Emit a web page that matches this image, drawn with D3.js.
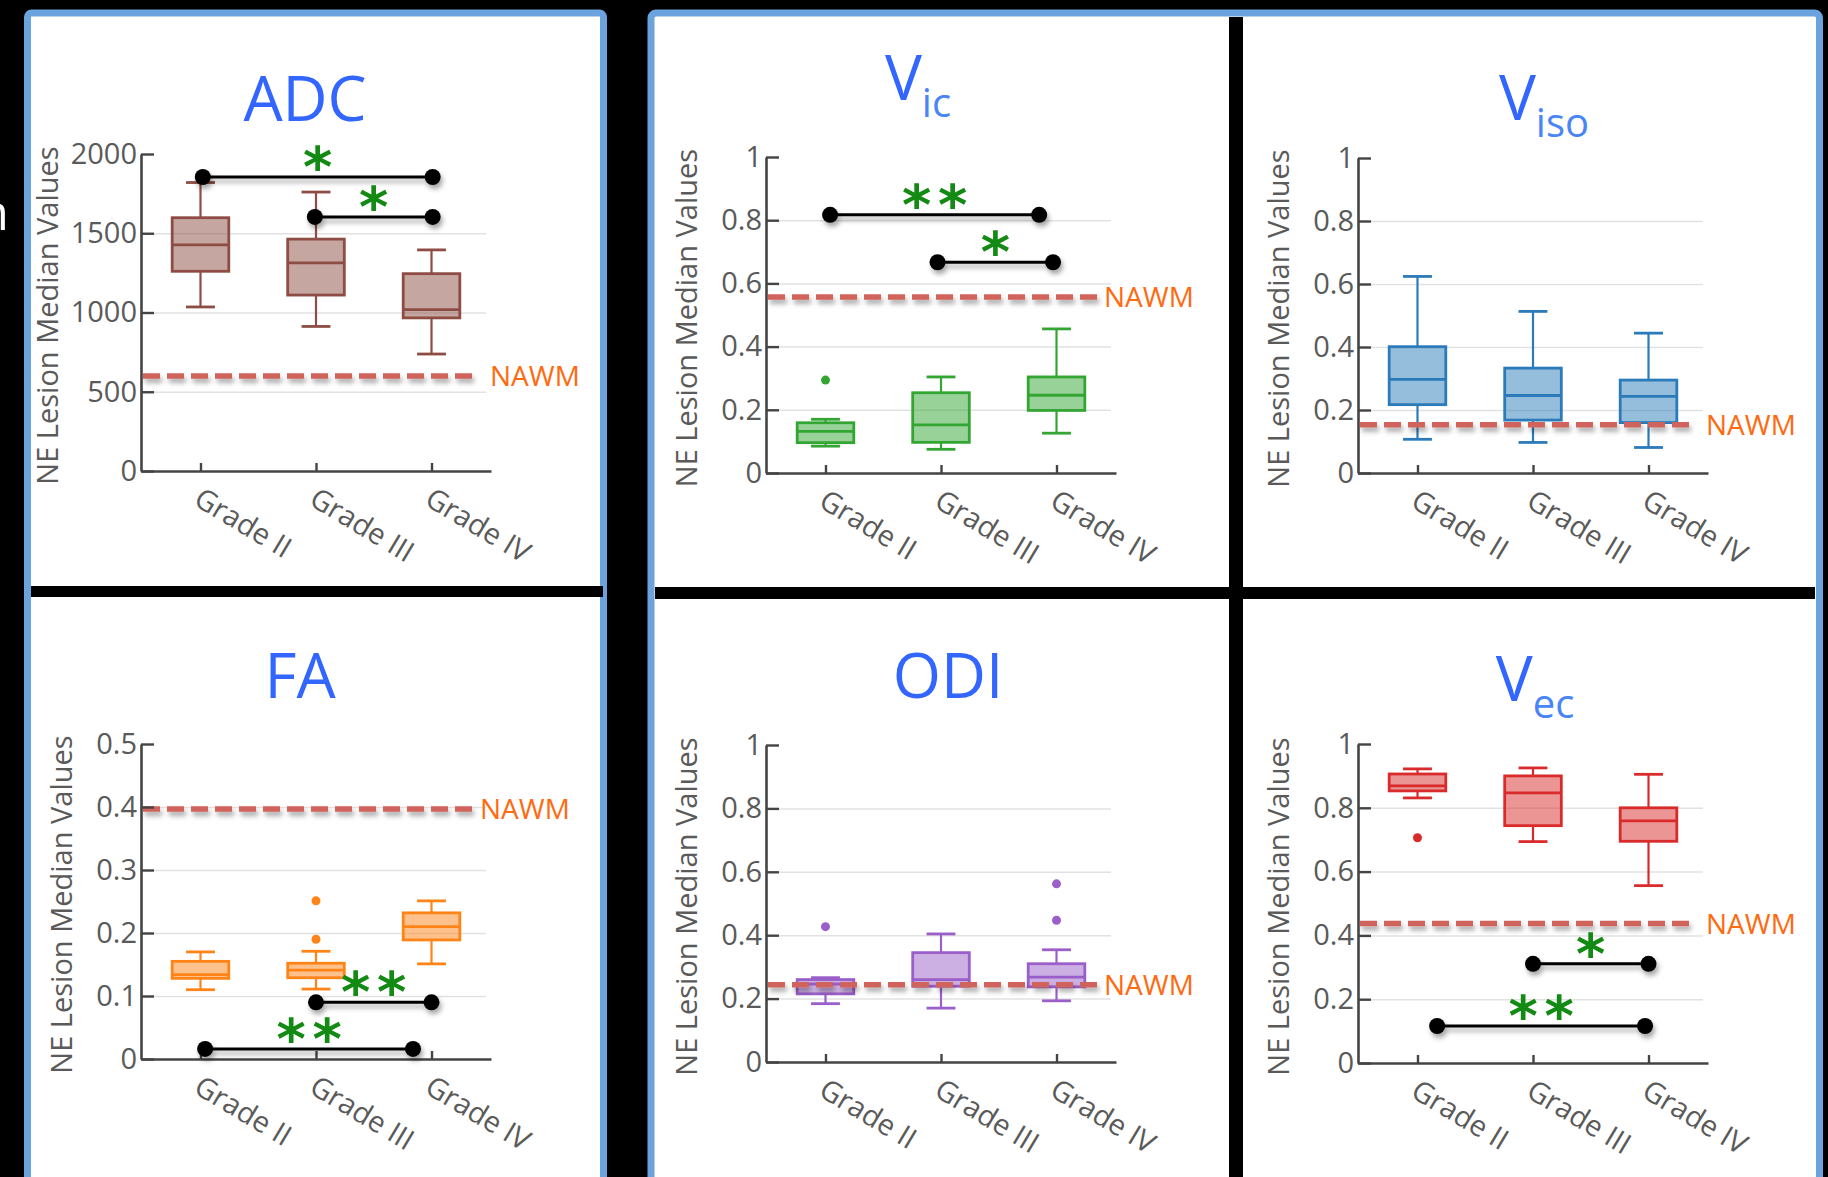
<!DOCTYPE html>
<html>
<head>
<meta charset="utf-8">
<script src="https://cdn.jsdelivr.net/npm/d3@7"></script>
<style>
  body { margin: 0; background: #000; }
  svg { display: block; font-family: "Open Sans", sans-serif; }
</style>
</head>
<body>
<div id="chart"></div>
<script>
// categories
const grades = ["Grade II", "Grade III", "Grade IV"];

// box stats per grade: [lower whisker, q1, median, q3, upper whisker]
const adcBoxes = [[1035, 1260, 1427, 1598, 1820], [912, 1110, 1313, 1463, 1760], [738, 966, 1018, 1245, 1395]];
const adcOutliers = [[], [], []];
const adcTicks = [0, 500, 1000, 1500, 2000];
const adcNawm = 600;
// significance bars: from / to in grade index units, y value, label
const adcSig = [{ from: 0.02, to: 2.01, y: 1855, label: "*" }, { from: 0.99, to: 2.01, y: 1603, label: "*" }];

const vicBoxes = [[0.085, 0.096, 0.132, 0.159, 0.170], [0.075, 0.097, 0.152, 0.254, 0.304], [0.126, 0.198, 0.246, 0.304, 0.456]];
const vicOutliers = [[0.294], [], []];
const vicTicks = [0, 0.2, 0.4, 0.6, 0.8, 1];
const vicNawm = 0.557;
const vicSig = [{ from: 0.04, to: 1.85, y: 0.817, label: "**" }, { from: 0.97, to: 1.97, y: 0.667, label: "*" }];

const visoBoxes = [[0.107, 0.217, 0.297, 0.401, 0.624], [0.097, 0.168, 0.246, 0.333, 0.513], [0.081, 0.160, 0.243, 0.295, 0.444]];
const visoOutliers = [[], [], []];
const visoTicks = [0, 0.2, 0.4, 0.6, 0.8, 1];
const visoNawm = 0.153;
const visoSig = [];

const faBoxes = [[0.110, 0.128, 0.134, 0.155, 0.170], [0.111, 0.129, 0.141, 0.152, 0.171], [0.151, 0.189, 0.210, 0.232, 0.251]];
const faOutliers = [[], [0.190, 0.251], []];
const faTicks = [0, 0.1, 0.2, 0.3, 0.4, 0.5];
const faNawm = 0.397;
const faSig = [{ from: 1.0, to: 2.0, y: 0.090, label: "**" }, { from: 0.04, to: 1.84, y: 0.016, label: "**" }];

const odiBoxes = [[0.184, 0.215, 0.246, 0.260, 0.266], [0.170, 0.239, 0.260, 0.345, 0.404], [0.193, 0.237, 0.268, 0.310, 0.354]];
const odiOutliers = [[0.427], [], [0.447, 0.562]];
const odiTicks = [0, 0.2, 0.4, 0.6, 0.8, 1];
const odiNawm = 0.244;
const odiSig = [];

const vecBoxes = [[0.831, 0.853, 0.869, 0.906, 0.922], [0.694, 0.744, 0.847, 0.900, 0.925], [0.556, 0.695, 0.759, 0.800, 0.905]];
const vecOutliers = [[0.706], [], []];
const vecTicks = [0, 0.2, 0.4, 0.6, 0.8, 1];
const vecNawm = 0.437;
const vecSig = [{ from: 1.0, to: 2.0, y: 0.311, label: "*" }, { from: 0.17, to: 1.97, y: 0.116, label: "**" }];

const panels = [
  { title: "ADC", sub: "", tx: 305, ty: 121, boxes: adcBoxes, outliers: adcOutliers, ticks: adcTicks, nawm: adcNawm, sig: adcSig,
    stroke: "#8e4d44", ax: 141, y0: 471, y1: 154, ylab: 83, nawmDx: 349 },
  { title: "V", sub: "ic", tx: 918, ty: 100, boxes: vicBoxes, outliers: vicOutliers, ticks: vicTicks, nawm: vicNawm, sig: vicSig,
    stroke: "#33a533", ax: 766, y0: 473, y1: 157, ylab: 69, nawmDx: 338 },
  { title: "V", sub: "iso", tx: 1544, ty: 120, boxes: visoBoxes, outliers: visoOutliers, ticks: visoTicks, nawm: visoNawm, sig: visoSig,
    stroke: "#2b7bba", ax: 1358, y0: 473, y1: 158, ylab: 69, nawmDx: 348 },
  { title: "FA", sub: "", tx: 300, ty: 698, boxes: faBoxes, outliers: faOutliers, ticks: faTicks, nawm: faNawm, sig: faSig,
    stroke: "#ff8418", ax: 141, y0: 1059, y1: 744, ylab: 69, nawmDx: 339 },
  { title: "ODI", sub: "", tx: 948, ty: 698, boxes: odiBoxes, outliers: odiOutliers, ticks: odiTicks, nawm: odiNawm, sig: odiSig,
    stroke: "#9a5fc8", ax: 766, y0: 1062, y1: 745, ylab: 69, nawmDx: 338 },
  { title: "V", sub: "ec", tx: 1535, ty: 701, boxes: vecBoxes, outliers: vecOutliers, ticks: vecTicks, nawm: vecNawm, sig: vecSig,
    stroke: "#d92b2b", ax: 1358, y0: 1063, y1: 744, ylab: 69, nawmDx: 348 }
];

const W = 1828, H = 1177;
const svg = d3.select("#chart").append("svg").attr("width", W).attr("height", H);

svg.append("rect").attr("width", W).attr("height", H).attr("fill", "#000");

const shadow = svg.append("defs").append("filter").attr("id", "shadow")
  .attr("filterUnits", "userSpaceOnUse").attr("x", 0).attr("y", 0).attr("width", W).attr("height", H);
shadow.append("feDropShadow").attr("dx", 2).attr("dy", 4).attr("stdDeviation", 2.5)
  .attr("flood-color", "#000").attr("flood-opacity", 0.35);

// the two framed panels
svg.append("rect").attr("x", 27.5).attr("y", 13).attr("width", 576).attr("height", 1170).attr("rx", 4)
  .attr("fill", "#fff").attr("stroke", "#6aa3de").attr("stroke-width", 7);
svg.append("rect").attr("x", 651).attr("y", 13).attr("width", 1168.5).attr("height", 1170).attr("rx", 5)
  .attr("fill", "#fff").attr("stroke", "#6aa3de").attr("stroke-width", 7);
// black dividers
svg.append("rect").attr("x", 31).attr("y", 586).attr("width", 572).attr("height", 11).attr("fill", "#000");
svg.append("rect").attr("x", 655).attr("y", 587).attr("width", 1160).attr("height", 12).attr("fill", "#000");
svg.append("rect").attr("x", 1229).attr("y", 17).attr("width", 14).attr("height", 1160).attr("fill", "#000");

// cut-off letter at the left edge (cropped in the original too)
svg.append("text").attr("x", 9).attr("y", 230).attr("text-anchor", "end")
  .style("font-size", "50px").attr("fill", "#fff").text("n");

panels.forEach(drawPanel);

function drawPanel(p) {
  const g = svg.append("g");
  const x = d3.scalePoint().domain(grades).range([p.ax, p.ax + 350]).padding(0.515);
  const y = d3.scaleLinear().domain([0, p.ticks[p.ticks.length - 1]]).range([p.y0, p.y1]);
  const xi = d3.scaleLinear().domain([0, 2]).range([x(grades[0]), x(grades[2])]);
  const bw = x.step() * 0.49, cw = x.step() * 0.25;

  // grid
  g.append("g").attr("transform", `translate(${p.ax},0)`)
    .call(d3.axisLeft(y).tickValues(p.ticks.slice(1, -1)).tickSize(-345).tickFormat(""))
    .call(s => s.select(".domain").remove())
    .selectAll("line").attr("stroke", "#e2e2e2").attr("stroke-width", 1.5);

  // boxes
  const bx = g.selectAll(".box").data(p.boxes).join("g")
    .attr("transform", (d, i) => `translate(${x(grades[i])},0)`)
    .attr("stroke", p.stroke);
  bx.append("line").attr("y1", d => y(d[0])).attr("y2", d => y(d[1])).attr("stroke-width", 2.2);
  bx.append("line").attr("y1", d => y(d[3])).attr("y2", d => y(d[4])).attr("stroke-width", 2.2);
  bx.append("line").attr("x1", -cw / 2).attr("x2", cw / 2).attr("y1", d => y(d[0])).attr("y2", d => y(d[0])).attr("stroke-width", 2.8);
  bx.append("line").attr("x1", -cw / 2).attr("x2", cw / 2).attr("y1", d => y(d[4])).attr("y2", d => y(d[4])).attr("stroke-width", 2.8);
  bx.append("rect").attr("x", -bw / 2).attr("width", bw)
    .attr("y", d => y(d[3])).attr("height", d => y(d[1]) - y(d[3]))
    .attr("fill", p.stroke).attr("fill-opacity", 0.5).attr("stroke-width", 2.8);
  bx.append("line").attr("x1", -bw / 2).attr("x2", bw / 2).attr("y1", d => y(d[2])).attr("y2", d => y(d[2])).attr("stroke-width", 2.8);

  // outliers
  const outs = p.outliers.flatMap((vals, i) => vals.map(v => ({ g: grades[i], v })));
  g.selectAll(".out").data(outs).join("circle")
    .attr("cx", d => x(d.g)).attr("cy", d => y(d.v)).attr("r", 4.5).attr("fill", p.stroke);

  // NAWM reference
  g.append("line").attr("x1", p.ax + 2).attr("x2", p.ax + 332)
    .attr("y1", y(p.nawm)).attr("y2", y(p.nawm))
    .attr("stroke", "#d0645c").attr("stroke-width", 5.5).attr("stroke-dasharray", "17 7")
    .attr("filter", "url(#shadow)");
  g.append("text").attr("x", p.ax + p.nawmDx).attr("y", y(p.nawm)).attr("dy", "0.36em")
    .attr("fill", "#ff6a10").style("font-size", "28px").text("NAWM");

  // y axis
  const ya = g.append("g").attr("transform", `translate(${p.ax},0)`)
    .call(d3.axisLeft(y).tickValues(p.ticks).tickSizeInner(-13).tickSizeOuter(0).tickPadding(4).tickFormat(d => String(d)));
  // x axis
  const xa = g.append("g").attr("transform", `translate(0,${p.y0})`)
    .call(d3.axisBottom(x).tickSizeInner(-8).tickSizeOuter(0));
  [ya, xa].forEach(a => {
    a.attr("font-family", null).attr("font-size", null);
    a.select(".domain").attr("stroke", "#444").attr("stroke-width", 2.6);
    a.selectAll(".tick line").attr("stroke", "#444").attr("stroke-width", 2.4);
    a.selectAll(".tick text").attr("fill", "#5a5a5a").style("font-size", "29px");
  });
  xa.selectAll(".tick text")
    .attr("x", 0).attr("y", 0).attr("dy", "0.72em").attr("text-anchor", "start")
    .attr("transform", "translate(2,15) rotate(31)");

  g.append("text")
    .attr("transform", `translate(${p.ax - p.ylab},${(p.y0 + p.y1) / 2 + 3}) rotate(-90)`)
    .attr("text-anchor", "middle").attr("fill", "#5a5a5a").style("font-size", "29px")
    .text("NE Lesion Median Values");

  // title
  const t = g.append("text").attr("x", p.tx).attr("y", p.ty).attr("text-anchor", "middle")
    .attr("fill", "#3366ff").style("font-size", "62px").text(p.title);
  if (p.sub) t.append("tspan").attr("dy", 17).attr("fill", "#4a85f7").style("font-size", "40px").text(p.sub);

  // significance bars
  const sg = g.selectAll(".sig").data(p.sig).join("g");
  const bars = sg.append("g").attr("filter", "url(#shadow)");
  bars.append("line").attr("x1", d => xi(d.from)).attr("x2", d => xi(d.to))
    .attr("y1", d => y(d.y)).attr("y2", d => y(d.y)).attr("stroke", "#000").attr("stroke-width", 3);
  bars.append("circle").attr("cx", d => xi(d.from)).attr("cy", d => y(d.y)).attr("r", 8);
  bars.append("circle").attr("cx", d => xi(d.to)).attr("cy", d => y(d.y)).attr("r", 8);
  sg.selectAll("text").data(d => d.label.split("").map((c, k, a) => ({
      c, x: (xi(d.from) + xi(d.to)) / 2 + (k - (a.length - 1) / 2) * 36, y: y(d.y) })))
    .join("text")
    .attr("x", d => d.x).attr("y", d => d.y + 9).attr("text-anchor", "middle")
    .attr("fill", "#138a13").style("font-size", "56px").style("font-weight", "bold")
    .style("font-family", "'DejaVu Sans', sans-serif")
    .text(d => d.c);
}
</script>
</body>
</html>
